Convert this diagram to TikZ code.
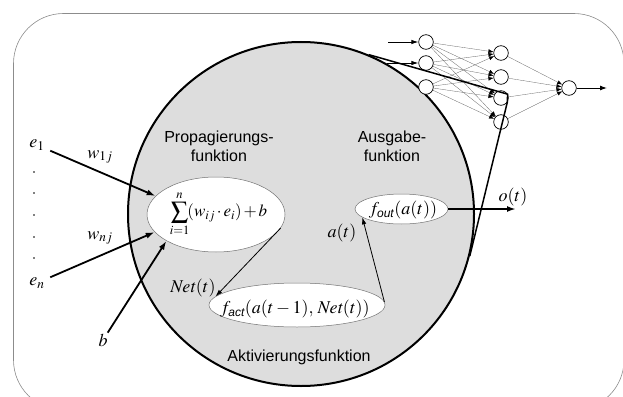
\documentclass[tikz,border=0pt]{standalone}
\usepackage{mathptmx}
\usepackage[no-math]{fontspec}
\setsansfont{Liberation Sans}
\usetikzlibrary{shapes.geometric,arrows.meta}
\definecolor{cellgray}{RGB}{221,221,221}
\definecolor{framegray}{RGB}{140,140,140}
\newcommand{\subsf}[1]{\hbox{\fontsize{12}{12}\selectfont\sffamily\itshape #1}}
\begin{document}
\begin{tikzpicture}[x=1pt,y=-1pt,
  lab/.style={font=\fontsize{16}{19}\selectfont\sffamily, align=center, inner sep=0pt},
  mth/.style={font=\fontsize{18}{20}\selectfont, inner sep=0pt},
  bub/.style={ellipse, draw=black!55, line width=0.5pt, fill=white, inner sep=0pt},
  neuron/.style={circle, draw=black, line width=0.7pt, fill=white, minimum size=14.6pt, inner sep=0pt},
  heavy/.style={line width=1.8pt, -{Latex[length=9pt,width=6pt]}},
  light/.style={line width=0.8pt, -{Latex[length=7pt,width=4.5pt]}},
  syn/.style={line width=0.3pt, draw=black!60, -{Latex[length=5pt,width=4pt,color=black]}},
  dotmark/.style={circle, fill=black, inner sep=0pt, minimum size=1.6pt},
]
\useasboundingbox (0,0) rectangle (623,396);
\draw[framegray, line width=0.6pt, rounded corners=50pt] (13.5,13.5) rectangle (624,410);

% big cell
\node[ellipse, draw, line width=2pt, fill=cellgray, minimum width=346pt, minimum height=344pt, inner sep=0pt] (cell) at (301,214) {};

% small network
\node[neuron] (i1) at (426,42) {};
\node[neuron] (i2) at (426,63) {};
\node[neuron] (i3) at (426,87) {};
\node[neuron] (h1) at (501,53) {};
\node[neuron] (h2) at (501,77) {};
\node[neuron] (h3) at (501,98) {};
\node[neuron] (h4) at (501,122) {};
\node[neuron] (o) at (569,88) {};
\foreach \i in {1,2,3}{\foreach \h in {1,...,4}{\draw[syn] (i\i) -- (h\h);}}
\foreach \h in {1,...,4}{\draw[syn] (h\h) -- (o);}
\coordinate (in1) at (388,42);
\coordinate (in2) at (387,63);
\coordinate (nout) at (607,88);
\draw[light] (in1) -- (i1);
\draw[light] (in2) -- (i2);
\draw[line width=1pt, -{Latex[length=7pt,width=5pt]}] (o) -- (nout);
\draw[line width=1.5pt] (cell.67.5) -- (h3.30) -- (h3.-35) -- (cell.-14.6);

% inner bubbles
\node[bub, minimum width=138pt, minimum height=75pt] (sumE) at (216,214.5) {};
\node[bub, minimum width=176pt, minimum height=44pt] (factE) at (297,305) {};
\node[bub, minimum width=93pt, minimum height=30pt] (foutE) at (401.5,209) {};

\node[mth, font=\fontsize{17}{20}\selectfont] (sumT) at (218.5,214) {$\medmuskip=2mu\displaystyle\sum_{i=1}^{n}\!(w_{ij}\cdot e_i)+b$};
\node[mth] (factT) at (295,309) {$f_{\subsf{act}}(a(t-1),\,\mathit{Net}(t))$};
\node[mth] (foutT) at (403,210) {$f_{\subsf{out}}(a(t))$};

% labels
\node[lab] (prop) at (219,146) {Propagierungs-\\funktion};
\node[lab] (ausg) at (392,146) {Ausgabe-\\funktion};
\node[lab] (akt) at (299,357) {Aktivierungsfunktion};
\node[mth] (e1) at (37,145) {$e_1$};
\node[mth] (en) at (37,283) {$e_n$};
\node[mth] (b) at (103,340) {$b$};
\node[mth] (w1) at (100,157) {$w_{1j}$};
\node[mth] (wn) at (100,238) {$w_{nj}$};
\node[mth] (net) at (193,288) {$\mathit{Net}(t)$};
\node[mth] (at) at (342,233) {$a(t)$};
\node[mth] (ot) at (513,197) {$o(t)$};
\foreach \y [count=\k] in {172,193,215,237,258}{\node[dotmark] (d\k) at (34,\y) {};}

% connectors
\draw[heavy, shorten <=6pt] (e1) -- (sumE.163);
\draw[heavy, shorten <=6pt] (en) -- (sumE.196);
\draw[heavy, shorten <=1pt] (b) -- (sumE.208);
\draw[light] (sumE.-12) -- (factE.174);
\draw[light] (factE.2) -- (foutE.192);
\coordinate (oend) at (516,209);
\draw[line width=2.2pt, -{Latex[length=9pt,width=6pt]}] (foutE.east) -- (oend);
\end{tikzpicture}
\end{document}
